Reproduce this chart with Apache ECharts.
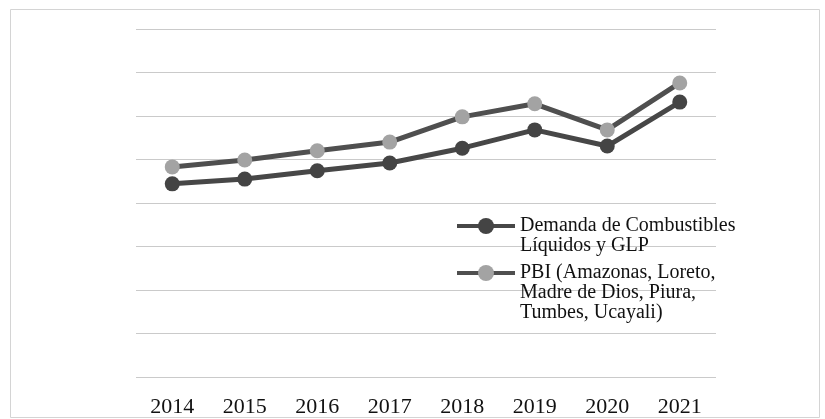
<!DOCTYPE html>
<html>
<head>
<meta charset="utf-8">
<script src="https://cdn.jsdelivr.net/npm/echarts@6/dist/echarts.min.js"></script>
<style>html,body{margin:0;padding:0;background:#fff}#c{width:825px;height:419px}</style>
</head>
<body>
<div id="c"></div>
<script>
const years = ['2014','2015','2016','2017','2018','2019','2020','2021'];
const demanda = [44.4, 45.5, 47.4, 49.2, 52.6, 56.8, 53.1, 63.2];
const pbi = [48.3, 49.9, 52.0, 54.0, 59.8, 62.8, 56.8, 67.6];
const nameDemanda = 'Demanda de Combustibles\nLíquidos y GLP';
const namePbi = 'PBI (Amazonas, Loreto,\nMadre de Dios, Piura,\nTumbes, Ucayali)';

const chart = echarts.init(document.getElementById('c'));
const legendText = {
  fontFamily: 'Liberation Serif', fontSize: 20, color: '#111',
  lineHeight: 20
};
chart.setOption({
  animation: false,
  backgroundColor: '#fff',
  graphic: [{
    type: 'rect', shape: {x: 10.5, y: 9.5, width: 809, height: 408},
    style: {fill: 'none', stroke: '#d4d4d4', lineWidth: 1}, silent: true, z: -1
  }],
  grid: {left: 136, right: 109, top: 29, bottom: 42, outerBoundsMode: 'none', containLabel: false},
  legend: [
    {data: [nameDemanda], left: 450, top: 191, orient: 'vertical', itemWidth: 58, itemHeight: 20,
     textStyle: legendText, itemGap: 0, lineStyle: {width: 4},
     formatter: function (n) { return ' \n' + n; }},
    {data: [namePbi], left: 450, top: 218, orient: 'vertical', itemWidth: 58, itemHeight: 20,
     textStyle: legendText, itemGap: 0, lineStyle: {width: 4},
     formatter: function (n) { return ' \n \n' + n; }}
  ],
  xAxis: {
    type: 'category', data: years, boundaryGap: true,
    axisLine: {show: false}, axisTick: {show: false},
    axisLabel: {fontFamily: 'Liberation Serif', fontSize: 22, color: '#111', margin: 19}
  },
  yAxis: {
    type: 'value', min: 0, max: 80, interval: 10,
    axisLabel: {show: false}, axisLine: {show: false}, axisTick: {show: false},
    splitLine: {lineStyle: {color: '#cacaca', width: 1}}
  },
  series: [
    {name: nameDemanda, type: 'line', data: demanda, symbol: 'circle', symbolSize: 15,
     lineStyle: {color: '#474747', width: 5},
     itemStyle: {color: '#444444', borderColor: '#444444', borderWidth: 0}},
    {name: namePbi, type: 'line', data: pbi, symbol: 'circle', symbolSize: 15,
     lineStyle: {color: '#4f4f4f', width: 5},
     itemStyle: {color: '#a3a3a3', borderColor: '#a3a3a3', borderWidth: 0}}
  ]
});
</script>
</body>
</html>
